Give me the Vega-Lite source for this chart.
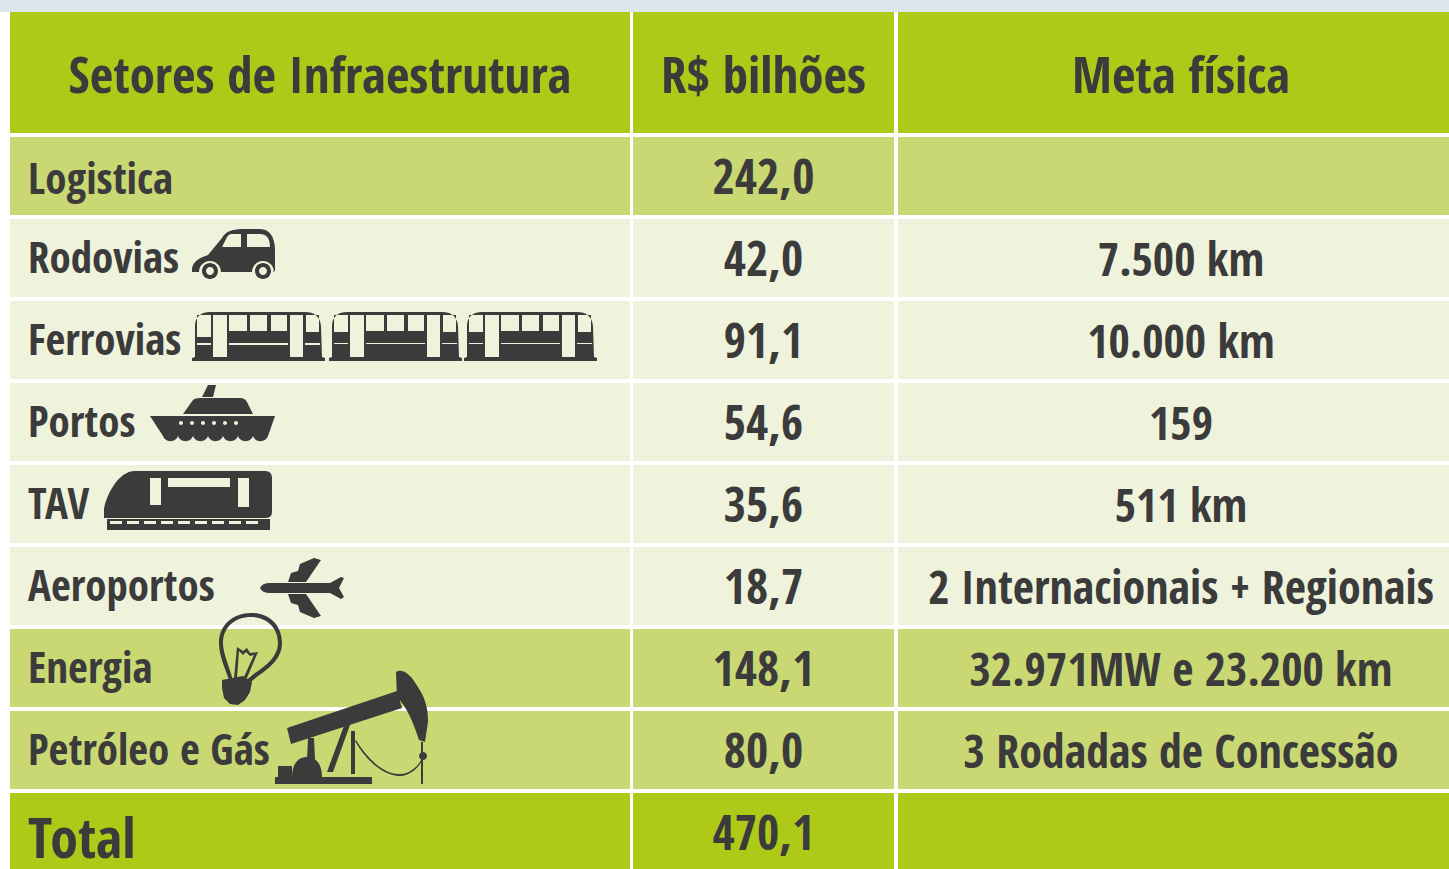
{
"$schema":"https://vega.github.io/schema/vega-lite/v6.json",
"width":1449,"height":869,"padding":0,"autosize":{"type":"none"},"background":"#ffffff",
"config":{"axis":{"disable":true},"legend":{"disable":true},"view":{"stroke":null},"text":{"font":"Open Sans Condensed","fontWeight":"bold","fill":"#3b3b3b"}},
"resolve":{"scale":{"x":"independent","y":"independent"}},
"datasets":{
"faixa":[{"faixa":"topo"}],
"icones":[{"linha":"Rodovias","icone":"carro"},{"linha":"Ferrovias","icone":"trem"},{"linha":"Portos","icone":"navio"},{"linha":"TAV","icone":"tav"},{"linha":"Aeroportos","icone":"aviao"},{"linha":"Energia","icone":"lampada"},{"linha":"Petróleo e Gás","icone":"petroleo"}],
"celulas":[
{"linha":"Cabeçalho","coluna":"Setores","texto":"Setores de Infraestrutura","grupo":"cabecalho"},
{"linha":"Cabeçalho","coluna":"Bilhoes","texto":"R$ bilhões","grupo":"cabecalho"},
{"linha":"Cabeçalho","coluna":"Meta","texto":"Meta física","grupo":"cabecalho"},
{"linha":"Logistica","coluna":"Setores","texto":"Logistica","grupo":"secao"},
{"linha":"Logistica","coluna":"Bilhoes","texto":"242,0","grupo":"secao"},
{"linha":"Logistica","coluna":"Meta","texto":"","grupo":"secao"},
{"linha":"Rodovias","coluna":"Setores","texto":"Rodovias","grupo":"item"},
{"linha":"Rodovias","coluna":"Bilhoes","texto":"42,0","grupo":"item"},
{"linha":"Rodovias","coluna":"Meta","texto":"7.500 km","grupo":"item"},
{"linha":"Ferrovias","coluna":"Setores","texto":"Ferrovias","grupo":"item"},
{"linha":"Ferrovias","coluna":"Bilhoes","texto":"91,1","grupo":"item"},
{"linha":"Ferrovias","coluna":"Meta","texto":"10.000 km","grupo":"item"},
{"linha":"Portos","coluna":"Setores","texto":"Portos","grupo":"item"},
{"linha":"Portos","coluna":"Bilhoes","texto":"54,6","grupo":"item"},
{"linha":"Portos","coluna":"Meta","texto":"159","grupo":"item"},
{"linha":"TAV","coluna":"Setores","texto":"TAV","grupo":"item"},
{"linha":"TAV","coluna":"Bilhoes","texto":"35,6","grupo":"item"},
{"linha":"TAV","coluna":"Meta","texto":"511 km","grupo":"item"},
{"linha":"Aeroportos","coluna":"Setores","texto":"Aeroportos","grupo":"item"},
{"linha":"Aeroportos","coluna":"Bilhoes","texto":"18,7","grupo":"item"},
{"linha":"Aeroportos","coluna":"Meta","texto":"2 Internacionais + Regionais","grupo":"item"},
{"linha":"Energia","coluna":"Setores","texto":"Energia","grupo":"secao"},
{"linha":"Energia","coluna":"Bilhoes","texto":"148,1","grupo":"secao"},
{"linha":"Energia","coluna":"Meta","texto":"32.971MW e 23.200 km","grupo":"secao"},
{"linha":"Petróleo e Gás","coluna":"Setores","texto":"Petróleo e Gás","grupo":"secao"},
{"linha":"Petróleo e Gás","coluna":"Bilhoes","texto":"80,0","grupo":"secao"},
{"linha":"Petróleo e Gás","coluna":"Meta","texto":"3 Rodadas de Concessão","grupo":"secao"},
{"linha":"Total","coluna":"Setores","texto":"Total","grupo":"total"},
{"linha":"Total","coluna":"Bilhoes","texto":"470,1","grupo":"total"},
{"linha":"Total","coluna":"Meta","texto":"","grupo":"total"}
]},
"layer":[
{"data":{"name":"faixa"},"mark":{"type":"rect","fill":"#dde6ea"},"encoding":{"y":{"field":"faixa","type":"nominal","scale":{"type":"band","domain":["topo"],"range":[0,12],"padding":0}}}},

{"data":{"name":"celulas"},"transform":[{"filter":"datum.coluna==='Setores' && datum.grupo==='cabecalho'"}],"mark":"rect","encoding":{
"x":{"field":"coluna","type":"nominal","scale":{"type":"band","domain":["Setores"],"range":[10,630],"padding":0}},
"y":{"field":"linha","type":"nominal","scale":{"type":"band","domain":["Cabeçalho"],"range":[12,133],"padding":0}},
"color":{"field":"grupo","type":"nominal","scale":{"domain":["cabecalho","secao","item","total"],"range":["#afc918","#c9d873","#eff3dc","#afc918"]}}}},
{"data":{"name":"celulas"},"transform":[{"filter":"datum.coluna==='Bilhoes' && datum.grupo==='cabecalho'"}],"mark":"rect","encoding":{
"x":{"field":"coluna","type":"nominal","scale":{"type":"band","domain":["Bilhoes"],"range":[633,894],"padding":0}},
"y":{"field":"linha","type":"nominal","scale":{"type":"band","domain":["Cabeçalho"],"range":[12,133],"padding":0}},
"color":{"field":"grupo","type":"nominal"}}},
{"data":{"name":"celulas"},"transform":[{"filter":"datum.coluna==='Meta' && datum.grupo==='cabecalho'"}],"mark":"rect","encoding":{
"x":{"field":"coluna","type":"nominal","scale":{"type":"band","domain":["Meta"],"range":[898,1464],"padding":0}},
"y":{"field":"linha","type":"nominal","scale":{"type":"band","domain":["Cabeçalho"],"range":[12,133],"padding":0}},
"color":{"field":"grupo","type":"nominal"}}},

{"data":{"name":"celulas"},"transform":[{"filter":"datum.coluna==='Setores' && datum.grupo!=='cabecalho'"}],"mark":"rect","encoding":{
"x":{"field":"coluna","type":"nominal","scale":{"type":"band","domain":["Setores"],"range":[10,630],"padding":0}},
"y":{"field":"linha","type":"nominal","scale":{"type":"band","domain":["Logistica","Rodovias","Ferrovias","Portos","TAV","Aeroportos","Energia","Petróleo e Gás","Total"],"range":[135,873],"paddingInner":0.0488,"paddingOuter":0.0244}},
"color":{"field":"grupo","type":"nominal"}}},
{"data":{"name":"celulas"},"transform":[{"filter":"datum.coluna==='Bilhoes' && datum.grupo!=='cabecalho'"}],"mark":"rect","encoding":{
"x":{"field":"coluna","type":"nominal","scale":{"type":"band","domain":["Bilhoes"],"range":[633,894],"padding":0}},
"y":{"field":"linha","type":"nominal","scale":{"type":"band","domain":["Logistica","Rodovias","Ferrovias","Portos","TAV","Aeroportos","Energia","Petróleo e Gás","Total"],"range":[135,873],"paddingInner":0.0488,"paddingOuter":0.0244}},
"color":{"field":"grupo","type":"nominal"}}},
{"data":{"name":"celulas"},"transform":[{"filter":"datum.coluna==='Meta' && datum.grupo!=='cabecalho'"}],"mark":"rect","encoding":{
"x":{"field":"coluna","type":"nominal","scale":{"type":"band","domain":["Meta"],"range":[898,1464],"padding":0}},
"y":{"field":"linha","type":"nominal","scale":{"type":"band","domain":["Logistica","Rodovias","Ferrovias","Portos","TAV","Aeroportos","Energia","Petróleo e Gás","Total"],"range":[135,873],"paddingInner":0.0488,"paddingOuter":0.0244}},
"color":{"field":"grupo","type":"nominal"}}},

{"data":{"name":"celulas"},"transform":[{"filter":"datum.grupo==='cabecalho' && datum.coluna==='Setores'"}],"mark":{"type":"text","fontSize":51,"baseline":"middle","align":"center","dy":5},"encoding":{
"x":{"field":"coluna","type":"nominal","scale":{"type":"band","domain":["Setores"],"range":[10,630],"padding":0}},
"y":{"field":"linha","type":"nominal","scale":{"type":"band","domain":["Cabeçalho"],"range":[12,133],"padding":0}},
"text":{"field":"texto"}}},
{"data":{"name":"celulas"},"transform":[{"filter":"datum.grupo==='cabecalho' && datum.coluna==='Bilhoes'"}],"mark":{"type":"text","fontSize":51,"baseline":"middle","align":"center","dy":5},"encoding":{
"x":{"field":"coluna","type":"nominal","scale":{"type":"band","domain":["Bilhoes"],"range":[633,894],"padding":0}},
"y":{"field":"linha","type":"nominal","scale":{"type":"band","domain":["Cabeçalho"],"range":[12,133],"padding":0}},
"text":{"field":"texto"}}},
{"data":{"name":"celulas"},"transform":[{"filter":"datum.grupo==='cabecalho' && datum.coluna==='Meta'"}],"mark":{"type":"text","fontSize":51,"baseline":"middle","align":"center","dy":5},"encoding":{
"x":{"field":"coluna","type":"nominal","scale":{"type":"band","domain":["Meta"],"range":[898,1464],"padding":0}},
"y":{"field":"linha","type":"nominal","scale":{"type":"band","domain":["Cabeçalho"],"range":[12,133],"padding":0}},
"text":{"field":"texto"}}},

{"data":{"name":"celulas"},"transform":[{"filter":"datum.grupo!=='cabecalho' && datum.coluna==='Setores'"}],"mark":{"type":"text","baseline":"middle","align":"left","dx":18,"dy":{"expr":"datum.grupo==='total'?9:(datum.linha==='Logistica'?5:2)"}},"encoding":{
"x":{"field":"coluna","type":"nominal","bandPosition":0,"scale":{"type":"band","domain":["Setores"],"range":[10,630],"padding":0}},
"y":{"field":"linha","type":"nominal","scale":{"type":"band","domain":["Logistica","Rodovias","Ferrovias","Portos","TAV","Aeroportos","Energia","Petróleo e Gás","Total"],"range":[135,873],"paddingInner":0.0488,"paddingOuter":0.0244}},
"size":{"condition":{"test":"datum.grupo==='total'","value":56},"value":43},
"text":{"field":"texto"}}},
{"data":{"name":"celulas"},"transform":[{"filter":"datum.grupo!=='cabecalho' && datum.coluna==='Bilhoes'"}],"mark":{"type":"text","fontSize":48,"baseline":"middle","align":"center","dy":4},"encoding":{
"x":{"field":"coluna","type":"nominal","scale":{"type":"band","domain":["Bilhoes"],"range":[633,894],"padding":0}},
"y":{"field":"linha","type":"nominal","scale":{"type":"band","domain":["Logistica","Rodovias","Ferrovias","Portos","TAV","Aeroportos","Energia","Petróleo e Gás","Total"],"range":[135,873],"paddingInner":0.0488,"paddingOuter":0.0244}},
"text":{"field":"texto"}}},
{"data":{"name":"celulas"},"transform":[{"filter":"datum.grupo!=='cabecalho' && datum.coluna==='Meta'"}],"mark":{"type":"text","fontSize":46,"baseline":"middle","align":"center","dy":4},"encoding":{
"x":{"field":"coluna","type":"nominal","scale":{"type":"band","domain":["Meta"],"range":[898,1464],"padding":0}},
"y":{"field":"linha","type":"nominal","scale":{"type":"band","domain":["Logistica","Rodovias","Ferrovias","Portos","TAV","Aeroportos","Energia","Petróleo e Gás","Total"],"range":[135,873],"paddingInner":0.0488,"paddingOuter":0.0244}},
"text":{"field":"texto"}}},

{"data":{"name":"icones"},"mark":{"type":"point","filled":true,"opacity":1,"strokeWidth":0,"fill":"#3b3b3b","size":4},"encoding":{
"x":{"datum":0,"type":"quantitative","scale":{"domain":[0,1449],"range":[0,1449]}},
"y":{"field":"linha","type":"nominal","scale":{"type":"band","domain":["Logistica","Rodovias","Ferrovias","Portos","TAV","Aeroportos","Energia","Petróleo e Gás","Total"],"range":[135,873],"paddingInner":0.0488,"paddingOuter":0.0244}},
"shape":{"field":"icone","type":"nominal","scale":{"domain":["carro","trem","navio","tav","aviao","lampada","petroleo"],"range":[
"M192 14 C191 5 198 0 208 -3 L222 -20 C226 -27 232 -29 245 -29 L260 -29 C270 -29 275 -20 275 -8 L275 13 L272 14 L192 14 Z M241 -24 L232 -24 C229 -24 227 -22 226 -19 L222 -11 L241 -11 Z M270 -11 C270 -19 267 -24 260 -24 L247 -24 L247 -11 Z M221 14 A 11 11 0 0 0 199 14 Z M274 14 A 11 11 0 0 0 252 14 Z M202 13 A 8 8 0 1 1 218 13 A 8 8 0 1 1 202 13 Z M206 13 A 4 4 0 1 0 214 13 A 4 4 0 1 0 206 13 Z M255 13 A 8 8 0 1 1 271 13 A 8 8 0 1 1 255 13 Z M259 13 A 4 4 0 1 0 267 13 A 4 4 0 1 0 259 13 Z",
"M192 21 L192 18 L195 17 L195 -14 C195 -24 202 -28 210 -28 L305 -28 C314 -28 320 -24 321 -14 L322 17 L325 18 L325 21 Z M213 -25 L213 17 L227 17 L227 -25 Z M290 -25 L290 17 L303 17 L303 -25 Z M229 -25 L229 -9 L247 -9 L247 -25 Z M250 -25 L250 -9 L267 -9 L267 -25 Z M271 -25 L271 -9 L287 -9 L287 -25 Z M197 -25 L197 -3 L211 -3 L211 -25 Z M306 -25 L306 -8 L319 -8 L319 -25 Z M229 3 L229 5 L288 5 L288 3 Z M197 3 L197 5 L211 5 L211 3 Z M305 3 L305 5 L320 5 L320 3 Z M329 21 L329 18 L332 17 L332 -14 C332 -24 339 -28 347 -28 L442 -28 C451 -28 457 -24 458 -14 L459 17 L462 18 L462 21 Z M350 -25 L350 17 L364 17 L364 -25 Z M427 -25 L427 17 L440 17 L440 -25 Z M366 -25 L366 -9 L384 -9 L384 -25 Z M387 -25 L387 -9 L404 -9 L404 -25 Z M408 -25 L408 -9 L424 -9 L424 -25 Z M334 -25 L334 -8 L348 -8 L348 -25 Z M443 -25 L443 -8 L456 -8 L456 -25 Z M366 3 L366 4 L425 4 L425 3 Z M334 3 L334 4 L348 4 L348 3 Z M442 3 L442 4 L457 4 L457 3 Z M464 21 L464 18 L467 17 L467 -14 C467 -24 474 -28 482 -28 L577 -28 C586 -28 592 -24 593 -14 L594 17 L597 18 L597 21 Z M485 -25 L485 17 L499 17 L499 -25 Z M562 -25 L562 17 L575 17 L575 -25 Z M501 -25 L501 -9 L519 -9 L519 -25 Z M522 -25 L522 -9 L539 -9 L539 -25 Z M543 -25 L543 -9 L559 -9 L559 -25 Z M469 -25 L469 -8 L483 -8 L483 -25 Z M578 -25 L578 -8 L591 -8 L591 -25 Z M501 3 L501 4 L560 4 L560 3 Z M469 3 L469 4 L483 4 L483 3 Z M577 3 L577 4 L592 4 L592 3 Z",
"M202 -25 L208 -37 L216 -37 L213 -25 Z M183 -8 L193 -22 Q195 -24 200 -24 L240 -24 Q245 -24 247 -20 L253 -8 Z M150 -6 L275 -6 L268 14 A 8 8 0 0 1 253 14 A 8 8 0 0 1 238 14 A 8 8 0 0 1 223 14 A 8 8 0 0 1 208 14 A 8 8 0 0 1 193 14 A 8 8 0 0 1 178 14 A 8 8 0 0 1 163 14 Z M179 1 A 2 2 0 1 0 183 1 A 2 2 0 1 0 179 1 Z M190 1 A 2 2 0 1 0 194 1 A 2 2 0 1 0 190 1 Z M201 1 A 2 2 0 1 0 205 1 A 2 2 0 1 0 201 1 Z M212 1 A 2 2 0 1 0 216 1 A 2 2 0 1 0 212 1 Z M223 1 A 2 2 0 1 0 227 1 A 2 2 0 1 0 223 1 Z M234 1 A 2 2 0 1 0 238 1 A 2 2 0 1 0 234 1 Z",
"M104 14 L104 5 C106 -8 118 -33 135 -33 L265 -33 Q272 -33 272 -26 L272 8 Q272 14 265 14 Z M150 -26 L150 1 L161 1 L161 -26 Z M168 -26 L168 -17 L230 -17 L230 -26 Z M238 -26 L238 3 L249 3 L249 -26 Z M107 15 L270 15 L270 26 L107 26 Z M110 17 L110 20 L122 20 L122 17 Z M127 17 L127 20 L139 20 L139 17 Z M144 17 L144 20 L156 20 L156 17 Z M161 17 L161 20 L173 20 L173 17 Z M178 17 L178 20 L190 20 L190 17 Z M195 17 L195 20 L207 20 L207 17 Z M212 17 L212 20 L224 20 L224 17 Z M229 17 L229 20 L241 20 L241 17 Z M246 17 L246 20 L258 20 L258 17 Z",
"M260 2 Q262 -3 270 -3 L330 -3 L341 -9 L344 -8 L339 2 L344 11 L341 13 L330 7 L270 7 Q262 7 260 2 Z M288 -4 L291 -13 L298 -15 L300 -22 L314 -28 L321 -26 L306 -4 Z M288 8 L306 8 L321 30 L314 32 L300 26 L298 19 L291 17 Z",
"M219 -25 C219 -43 233 -55 251 -55 C269 -55 282 -43 282 -25 C282 -10 270 0 258 8 L247 17 L244 14 L255 5 C267 -3 278 -12 278 -25 C278 -41 266 -51 251 -51 C235 -51 223 -41 223 -25 C223 -15 228 -5 233 12 L229 12 C225 0 219 -12 219 -25 Z M222 12 L243 8 L252 14 L250 24 L245 32 L238 37 L230 36 L224 30 L222 20 Z M234 10 L237 -21 L243 -17 L247 -20 L250 -15 L258 -16 L246 12 L243 11 L254 -13 L250 -12 L246 -16 L243 -13 L239 -17 L237 10 Z",
"M287 -22 L397 -59 L402 -42 L291 -6 Z M396 -78 C402 -82 410 -76 416 -66 C424 -54 428 -45 428 -28 L425 -8 L419 -10 C414 -25 408 -42 397 -53 Z M345 -27 L350 -25 L333 22 L327 22 Z M351 -19 L355 -19 L355 24 L351 24 Z M308 -12 L314 -12 L315 10 L307 10 Z M292 27 C292 14 298 7 307 7 C316 7 322 14 322 27 Z M278 27 L278 16 L292 16 L292 27 Z M275 27 L372 27 L372 34 L275 34 Z M421 -8 L423 -8 L423 34 L421 34 Z M419 6 A 4 4 0 1 1 427 6 A 4 4 0 1 1 419 6 Z M356 -10 C368 10 385 25 400 24 C410 24 418 16 421 10 L422 11 C418 18 410 26 400 26 C384 26 366 11 355 -9 Z"
]}}}}
]}
